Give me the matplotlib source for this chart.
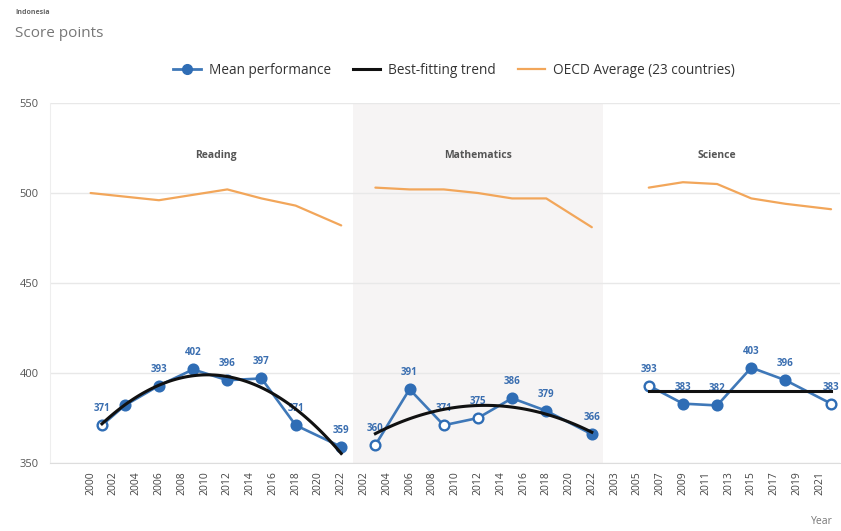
import numpy as np
import matplotlib
matplotlib.use("Agg")
import matplotlib.pyplot as plt
from matplotlib.lines import Line2D

plt.rcParams['font.family'] = ['Open Sans', 'DejaVu Sans']

# ---------------- data ----------------
country = "Indonesia"
subjects = ["Reading", "Mathematics", "Science"]

# tick labels (each panel)
reading_ticks = [2000, 2002, 2004, 2006, 2008, 2010, 2012, 2014, 2016, 2018, 2020, 2022]
math_ticks = [2002, 2004, 2006, 2008, 2010, 2012, 2014, 2016, 2018, 2020, 2022]
science_ticks = [2003, 2005, 2007, 2009, 2011, 2013, 2015, 2017, 2019, 2021]

# Indonesia mean performance
reading_years = [2001, 2003, 2006, 2009, 2012, 2015, 2018, 2022]
reading_scores = [371, 382, 393, 402, 396, 397, 371, 359]
reading_filled = [False, True, True, True, True, True, True, True]
reading_labelled = [True, False, True, True, True, True, True, True]

math_years = [2003, 2006, 2009, 2012, 2015, 2018, 2022]
math_scores = [360, 391, 371, 375, 386, 379, 366]
math_filled = [False, True, False, False, True, True, True]
math_labelled = [True, True, True, True, True, True, True]

science_years = [2006, 2009, 2012, 2015, 2018, 2022]
science_scores = [393, 383, 382, 403, 396, 383]
science_filled = [False, True, True, True, True, False]
science_labelled = [True, True, True, True, True, True]

# OECD average (23 countries)
reading_oecd_years = [2000, 2003, 2006, 2009, 2012, 2015, 2018, 2022]
reading_oecd = [500, 498, 496, 499, 502, 497, 493, 482]
math_oecd_years = [2003, 2006, 2009, 2012, 2015, 2018, 2022]
math_oecd = [503, 502, 502, 500, 497, 497, 481]
science_oecd_years = [2006, 2009, 2012, 2015, 2018, 2022]
science_oecd = [503, 506, 505, 497, 494, 491]

# degree of best-fitting trend per subject
trend_degree = [2, 2, 0]

# ---------------- styling ----------------
BLUE = "#2f6db5"
LINE_BLUE = "#3f78b8"
BLACK = "#111111"
ORANGE = "#f2a65a"
SHADE = "#f6f4f4"
GRID = "#e8e8e8"

fig = plt.figure(figsize=(8.41, 5.31), dpi=100)
ax = fig.add_axes([0.0595, 0.128, 0.9395, 0.678])

panels = [
    (reading_ticks, reading_years, reading_scores, reading_filled, reading_labelled,
     reading_oecd_years, reading_oecd),
    (math_ticks, math_years, math_scores, math_filled, math_labelled,
     math_oecd_years, math_oecd),
    (science_ticks, science_years, science_scores, science_filled, science_labelled,
     science_oecd_years, science_oecd),
]

tick_pos = []
tick_lab = []
offset = 0
bounds = []
for pi, (ticks, yrs, sc, filled, lab, oy, ov) in enumerate(panels):
    first = ticks[0]
    def pos(y, first=first, offset=offset):
        return offset + (np.asarray(y, dtype=float) - first) / 2.0
    for i, t in enumerate(ticks):
        tick_pos.append(offset + i)
        tick_lab.append(str(t))
    bounds.append((offset - 0.5, offset + len(ticks) - 0.5))

    # OECD average
    ax.plot(pos(oy), ov, color=ORANGE, lw=1.6, zorder=3, solid_capstyle='round')

    # labels (under the lines)
    for y, s, l in zip(yrs, sc, lab):
        if l:
            ax.annotate(str(s), (pos(y), s), xytext=(0, 8), textcoords='offset points',
                        ha='center', va='bottom', fontsize=7, fontweight='bold',
                        color="#3a6eb0", zorder=2)

    # mean performance line
    px = pos(yrs)
    ax.plot(px, sc, color=LINE_BLUE, lw=1.9, zorder=4)
    for x, s, f in zip(px, sc, filled):
        ax.plot([x], [s], marker='o', ms=7, mew=1.7, mec=BLUE,
                mfc=BLUE if f else "white", zorder=5, ls='none')

    # best-fitting trend
    deg = trend_degree[pi]
    coef = np.polyfit(yrs, sc, deg)
    yy = np.linspace(yrs[0], yrs[-1], 100)
    ax.plot(pos(yy), np.polyval(coef, yy), color=BLACK, lw=2.2, zorder=6)

    # panel title
    ax.text((bounds[-1][0] + bounds[-1][1]) / 2, 521, subjects[pi], ha='center',
            va='center', fontsize=7.5, fontweight='bold', color="#555555", zorder=7)

    offset += len(ticks)

# shading of middle panel
ax.axvspan(bounds[1][0], bounds[1][1], color=SHADE, zorder=0, lw=0)

ax.set_xlim(-1.78, 32.9)
ax.set_ylim(350, 550)
ax.set_yticks([350, 400, 450, 500, 550])
ax.set_xticks(tick_pos)
ax.set_xticklabels(tick_lab, rotation=90, fontsize=7.5, color="#444444")
ax.tick_params(axis='y', labelsize=8, colors="#555555", length=0, pad=8)
ax.tick_params(axis='x', length=0, pad=6)
ax.yaxis.grid(True, color=GRID, lw=1, zorder=1)
ax.set_axisbelow(True)
for sp in ['top', 'right']:
    ax.spines[sp].set_visible(False)
ax.spines['bottom'].set_color("#dddddd")
ax.spines['left'].set_color("#eeeeee")

# titles
fig.text(0.018, 0.977, country, fontsize=5, fontweight='bold', color="#666666",
         ha='left', va='center')
fig.text(0.018, 0.937, "Score points", fontsize=11, color="#777777",
         ha='left', va='center')
fig.text(0.99, 0.018, "Year", fontsize=7.5, color="#777777", ha='right', va='center')

handles = [
    Line2D([], [], color=LINE_BLUE, lw=2, marker='o', ms=7, mfc=BLUE, mec=BLUE),
    Line2D([], [], color=BLACK, lw=2.2),
    Line2D([], [], color=ORANGE, lw=1.6),
]
fig.legend(handles, ["Mean performance", "Best-fitting trend", "OECD Average (23 countries)"],
           loc='center', bbox_to_anchor=(0.54, 0.868), ncol=3, frameon=False,
           fontsize=9.8, handlelength=2.0, columnspacing=1.6, handletextpad=0.6,
           labelcolor="#333333")

fig.savefig("out.png", dpi=100)
